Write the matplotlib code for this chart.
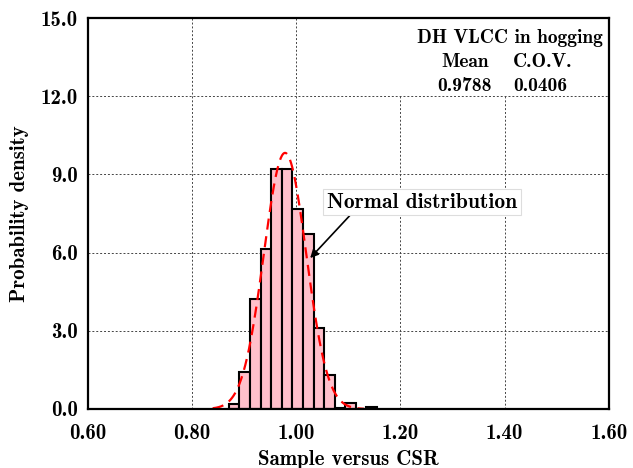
import numpy as np
import matplotlib
matplotlib.use("Agg")
import matplotlib.pyplot as plt

# Data
bin_start = 0.871
bin_width = 0.0203
bar_heights = [0.20, 1.43, 4.22, 6.13, 9.22, 9.22, 7.66, 6.71, 3.11, 1.29, 0.02, 0.23, 0.0, 0.07]
mean_val = 0.9788
cov_val = 0.0406
curve_range = [0.84, 1.13]
x_ticks = [0.60, 0.80, 1.00, 1.20, 1.40, 1.60]
y_ticks = [0.0, 3.0, 6.0, 9.0, 12.0, 15.0]

plt.rcParams['font.family'] = ['cmb10', 'DejaVu Serif']
plt.rcParams['axes.unicode_minus'] = False

FS = 15

fig = plt.figure(figsize=(6.33, 4.68), dpi=100)
ax = fig.add_axes([87.5/633, 1 - 409/468, (609-87.5)/633, (409-18)/468])

edges = bin_start + bin_width * np.arange(len(bar_heights))
ax.bar(edges, bar_heights, width=bin_width, align='edge', color='#FFC0CB',
       edgecolor='black', linewidth=1.5, zorder=3)

xs = np.linspace(curve_range[0], curve_range[1], 400)
sd = cov_val
pdf = np.exp(-0.5 * ((xs - mean_val) / sd) ** 2) / (sd * np.sqrt(2 * np.pi))
ax.plot(xs, pdf, color='red', linestyle=(0, (5, 3)), linewidth=1.6, zorder=4)

ax.set_xlim(0.6, 1.6)
ax.set_ylim(0, 15)
ax.set_xticks(x_ticks)
ax.set_yticks(y_ticks)
ax.set_xticklabels([f"{v:.2f}" for v in x_ticks])
ax.set_yticklabels([f"{v:.1f}" for v in y_ticks])
ax.tick_params(length=0, labelsize=FS)
ax.tick_params(axis='x', pad=11)
ax.tick_params(axis='y', pad=7)
ax.grid(True, color='#444444', linestyle=(0, (2, 2)), linewidth=0.7, zorder=0)
ax.set_axisbelow(True)
for s in ax.spines.values():
    s.set_linewidth(1.6)
    s.set_zorder(6)

ax.set_xlabel('Sample versus CSR', fontsize=FS, labelpad=5)
ax.set_ylabel('Probability density', fontsize=FS, labelpad=8)

# White box in upper-right covering grid
ax.add_patch(plt.Rectangle((1.2, 12.05), 0.4, 2.95, facecolor='white',
                           edgecolor='none', zorder=2))
tfs = 14
ax.text(1.41, 14.23, 'DH VLCC in hogging', fontsize=tfs, ha='center', va='center', zorder=5)
ax.text(1.325, 13.31, 'Mean', fontsize=tfs, ha='center', va='center', zorder=5)
ax.text(1.472, 13.31, 'C.O.V.', fontsize=tfs, ha='center', va='center', zorder=5)
ax.text(1.322, 12.39, f'{mean_val:.4f}', fontsize=tfs, ha='center', va='center', zorder=5)
ax.text(1.468, 12.39, f'{cov_val:.4f}', fontsize=tfs, ha='center', va='center', zorder=5)

ax.annotate('Normal distribution', xy=(1.027, 5.79), xytext=(1.2414, 7.94),
            fontsize=FS + 0.5, ha='center', va='center', zorder=5,
            bbox=dict(boxstyle='square,pad=0.18', facecolor='white', edgecolor='#dddddd', linewidth=0.8),
            arrowprops=dict(arrowstyle='-|>', color='black', lw=1.2, mutation_scale=12,
                            shrinkA=0, shrinkB=0, relpos=(0.14, 0.0)))

fig.savefig('out.png', dpi=100)
